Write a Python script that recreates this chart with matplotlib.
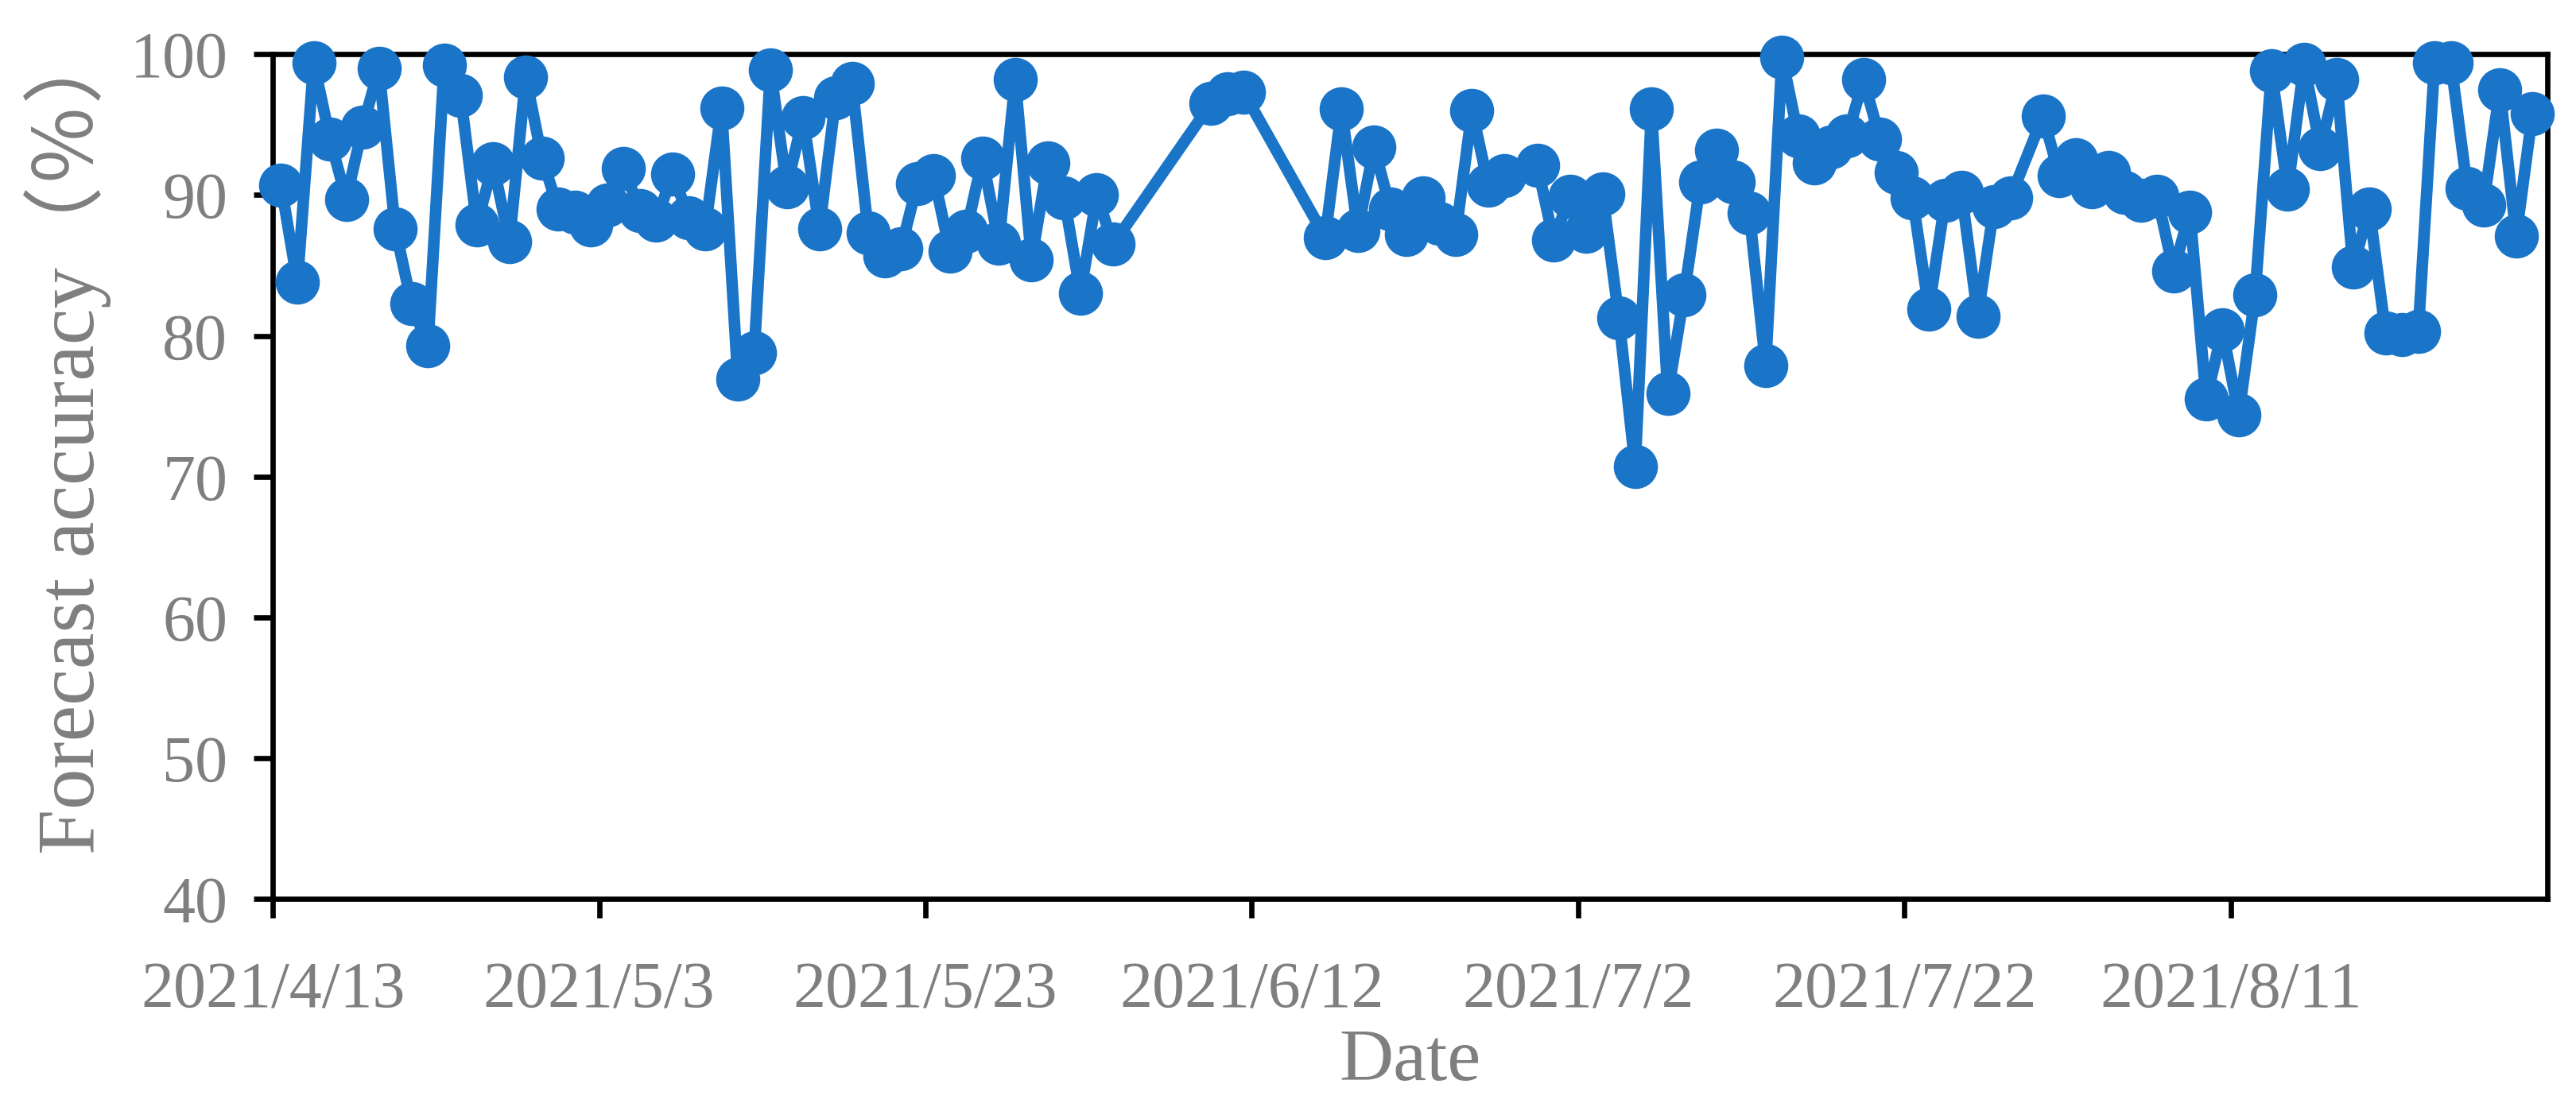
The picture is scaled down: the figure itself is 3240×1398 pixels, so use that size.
import pandas as pd
import matplotlib
matplotlib.use('Agg')
import matplotlib.pyplot as plt

plt.rcParams['font.family'] = ['Liberation Serif', 'Noto Sans CJK SC', 'DejaVu Sans']

# daily forecast accuracy, 2021/4/13 .. 2021/8/29 (some days have no data)
first_day = '2021-04-13'
last_day = '2021-08-29'
missing_days = ['2021-06-04', '2021-06-05', '2021-06-06', '2021-06-07', '2021-06-08',
                '2021-06-12', '2021-06-13', '2021-06-14', '2021-06-15',
                '2021-06-28', '2021-07-29']

accuracy = [90.7, 83.8, 99.4, 94.0, 89.7, 94.8, 99.0, 87.6, 82.3, 79.3,
            99.2, 97.1, 87.9, 92.2, 86.7, 98.4, 92.6, 89.0, 88.8, 87.9,
            89.3, 91.9, 88.9, 88.2, 91.5, 88.4, 87.6, 96.2, 76.9, 78.8,
            98.9, 90.6, 95.5, 87.6, 96.9, 97.9, 87.3, 85.7, 86.2, 90.8,
            91.4, 86.0, 87.4, 92.6, 86.6, 98.2, 85.4, 92.3, 89.8, 83.0, 90.0, 86.5,
            96.5, 97.2, 97.3,
            87.0, 96.1, 87.5, 93.4, 89.0, 87.2, 89.8, 88.0, 87.2, 96.0, 90.7, 91.4,
            92.1, 86.8, 89.9, 87.4, 90.1, 81.3, 70.7, 96.1, 75.9, 82.9,
            90.9, 93.2, 90.9, 88.7, 77.9, 99.8, 94.2, 92.3, 93.4, 94.2,
            98.2, 94.0, 91.6, 89.8, 81.9, 89.6, 90.2, 81.4, 89.2, 89.8,
            95.6, 91.4, 92.5, 90.6, 91.6, 90.2, 89.6, 89.9, 84.6, 88.8,
            75.5, 80.4, 74.4, 82.9, 98.8, 90.4, 99.3, 93.3, 98.2, 84.9,
            89.0, 80.2, 80.1, 80.3, 99.4, 99.4, 90.5, 89.3, 97.5, 87.1, 95.8]

tick_labels = ['2021/4/13', '2021/5/3', '2021/5/23', '2021/6/12',
               '2021/7/2', '2021/7/22', '2021/8/11']
y_ticks = [40, 50, 60, 70, 80, 90, 100]

dates = pd.date_range(first_day, last_day).drop(pd.to_datetime(missing_days))

gray = '#7f7f7f'
blue = '#1a74c8'

fig = plt.figure(figsize=(32.41, 13.98), dpi=100)
ax = fig.add_axes([0.1059, 0.1908, 0.8826, 0.7604])

# each day sits in the middle of its day cell
ax.plot(dates + pd.Timedelta(hours=12), accuracy, color=blue, lw=10.5,
        marker='o', ms=39, clip_on=False, zorder=3)

start = pd.Timestamp(first_day)
ax.set_xlim(start, start + pd.Timedelta(days=139.4))
ax.set_ylim(40, 100)
ax.set_xticks(pd.to_datetime(tick_labels, format='%Y/%m/%d'))
ax.set_xticklabels(tick_labels)
ax.set_yticks(y_ticks)

for s in ax.spines.values():
    s.set_linewidth(4.8)
    s.set_color('black')
ax.tick_params(direction='out', length=17, width=4.8, colors='black',
               labelcolor=gray, labelsize=59)
ax.tick_params(axis='x', pad=40)
ax.tick_params(axis='y', pad=24)

ax.set_xlabel('Date', fontsize=68, color=gray, labelpad=6)
ax.set_ylabel('Forecast accuracy（％）', fontsize=74, color=gray, labelpad=17)
ax.yaxis.label.set_y(0.545)

fig.savefig('out.png', dpi=100, facecolor='white')
